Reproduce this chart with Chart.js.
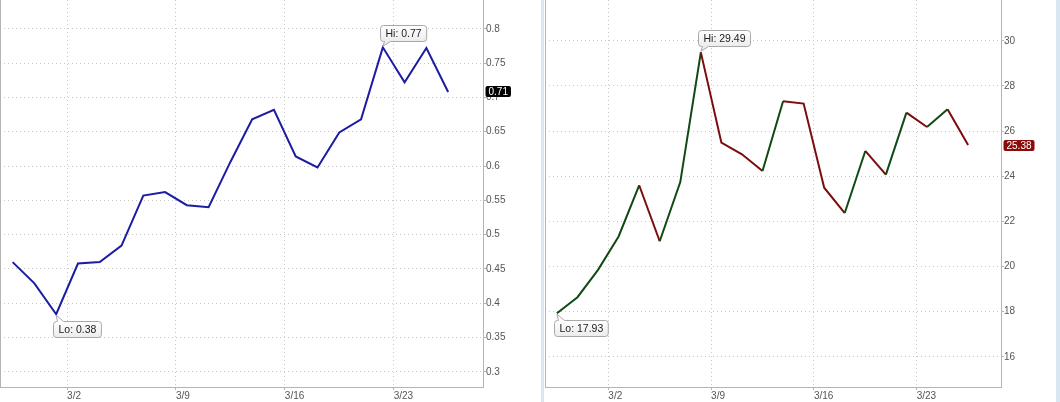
<!DOCTYPE html>
<html>
<head>
<meta charset="utf-8">
<script src="https://cdn.jsdelivr.net/npm/chart.js@4.4.0/dist/chart.umd.min.js"></script>
<style>
  body { margin: 0; background: #fff; width: 1060px; height: 402px; overflow: hidden; position: relative; }
  .panel { position: absolute; top: 0; height: 402px; }
  #p1 { left: 0; width: 541px; }
  #p2 { left: 545px; width: 511px; }
  .sep { position: absolute; top: 0; height: 402px; background: #d8e7f2; }
</style>
</head>
<body>
<div class="panel" id="p1"><canvas id="ratioChart"></canvas></div>
<div class="sep" style="left:541px;width:3px"></div>
<div class="panel" id="p2"><canvas id="priceChart"></canvas></div>
<div class="sep" style="left:1056px;width:4px"></div>
<script>
// trading days shown on both panels
const dates = ['2/25','2/26','2/27','3/2','3/3','3/4','3/5','3/6','3/9','3/10','3/11','3/12','3/13','3/16','3/17','3/18','3/19','3/20','3/23','3/24','3/25']
const ratioValues = [0.460,0.429,0.384,0.458,0.460,0.484,0.557,0.562,0.543,0.540,0.606,0.668,0.682,0.614,0.598,0.649,0.668,0.773,0.722,0.772,0.708]
const priceValues = [17.93,18.64,19.85,21.33,23.60,21.12,23.74,29.49,25.49,24.97,24.23,27.32,27.22,23.49,22.37,25.12,24.07,26.82,26.18,26.97,25.38]
const xTickLabels = ['3/2','3/9','3/16','3/23']
const ratioTicks = [0.3,0.35,0.4,0.45,0.5,0.55,0.6,0.65,0.7,0.75,0.8]
const priceTicks = [16,18,20,22,24,26,28,30]

const FONT = 'Liberation Sans, Arial, sans-serif'
const GREEN = '#0f4a12'
const RED = '#7c0c0c'

const callout = (ctx, px, py, text, above) => {
  ctx.save()
  ctx.font = '10.5px ' + FONT
  const w = ctx.measureText(text).width + 10
  const h = 16
  const r = 3
  const bx = Math.round(px - 3) + 0.5
  const by = above ? Math.round(py - 6 - h) + 0.5 : Math.round(py + 7) + 0.5
  ctx.beginPath()
  ctx.moveTo(bx + r, by)
  if (!above) {
    ctx.lineTo(bx + 4, by)
    ctx.lineTo(px, py + 1)
    ctx.lineTo(bx + 10, by)
  }
  ctx.lineTo(bx + w - r, by)
  ctx.arcTo(bx + w, by, bx + w, by + r, r)
  ctx.lineTo(bx + w, by + h - r)
  ctx.arcTo(bx + w, by + h, bx + w - r, by + h, r)
  if (above) {
    ctx.lineTo(bx + 10, by + h)
    ctx.lineTo(px, py - 1)
    ctx.lineTo(bx + 4, by + h)
  }
  ctx.lineTo(bx + r, by + h)
  ctx.arcTo(bx, by + h, bx, by + h - r, r)
  ctx.lineTo(bx, by + r)
  ctx.arcTo(bx, by, bx + r, by, r)
  ctx.closePath()
  const g = ctx.createLinearGradient(0, by, 0, by + h)
  g.addColorStop(0, '#ffffff')
  g.addColorStop(1, '#ececec')
  ctx.fillStyle = g
  ctx.fill()
  ctx.strokeStyle = '#a8a8a8'
  ctx.lineWidth = 1
  ctx.stroke()
  ctx.fillStyle = '#222'
  ctx.textBaseline = 'middle'
  ctx.textAlign = 'left'
  ctx.fillText(text, bx + 5, by + h / 2 + 0.5)
  ctx.restore()
}

const tag = (ctx, x, y, text, color) => {
  ctx.save()
  ctx.font = '10px ' + FONT
  const w = ctx.measureText(text).width + 6
  const h = 11
  const top = Math.round(y - h / 2)
  ctx.beginPath()
  ctx.roundRect(x, top, w, h, 2)
  ctx.fillStyle = color
  ctx.fill()
  ctx.fillStyle = '#fff'
  ctx.textBaseline = 'middle'
  ctx.fillText(text, x + 3, top + h / 2 + 0.5)
  ctx.restore()
}

const markers = {
  id: 'markers',
  afterDraw(chart, args, opts) {
    const ctx = chart.ctx
    const area = chart.chartArea
    // left frame line
    ctx.save()
    ctx.strokeStyle = '#b4b4b4'
    ctx.lineWidth = 1
    ctx.beginPath()
    ctx.moveTo(Math.round(area.left) + 0.5, 0)
    ctx.lineTo(Math.round(area.left) + 0.5, area.bottom)
    ctx.stroke()
    ctx.restore()

    const vals = chart.data.datasets[0].data.map(p => p.y)
    const pts = chart.getDatasetMeta(0).data
    const hi = vals.indexOf(Math.max(...vals))
    const lo = vals.indexOf(Math.min(...vals))
    callout(ctx, pts[hi].x, pts[hi].y, 'Hi: ' + vals[hi].toFixed(2), true)
    callout(ctx, pts[lo].x, pts[lo].y, 'Lo: ' + vals[lo].toFixed(2), false)
    const last = vals.length - 1
    tag(ctx, Math.round(area.right) + 2.5, pts[last].y, vals[last].toFixed(2), opts.tagColor)
  }
}

const mountChart = (canvas, values, yTicks, yMin, yMax, yWidth, lineOpts, tagColor) => {
  const points = values.map((v, i) => ({ x: i, y: v }))
  const xTickPos = xTickLabels.map(l => dates.indexOf(l) - 0.5)
  const config = {
    type: 'line',
    data: {
      datasets: [Object.assign({
        data: points,
        borderWidth: 2,
        pointRadius: 0,
        tension: 0,
        fill: false
      }, lineOpts)]
    },
    options: {
      responsive: true,
      maintainAspectRatio: false,
      animation: false,
      layout: { padding: 0 },
      plugins: {
        legend: { display: false },
        tooltip: { enabled: false },
        markers: { tagColor: tagColor }
      },
      scales: {
        x: {
          type: 'linear',
          min: -0.58,
          max: 21.6,
          afterBuildTicks: s => { s.ticks = xTickPos.map(v => ({ value: v })) },
          afterFit: s => { s.height = 15; s.paddingLeft = 0; s.paddingRight = 0 },
          grid: { color: '#c8c8c8', tickLength: 3, tickColor: '#b4b4b4' },
          border: { color: '#b4b4b4', dash: [1, 3] },
          ticks: {
            align: 'start',
            autoSkip: false,
            maxRotation: 0,
            padding: 0,
            color: '#555',
            font: { family: FONT, size: 10 },
            callback: v => xTickLabels[xTickPos.indexOf(v)]
          }
        },
        y: {
          position: 'right',
          min: yMin,
          max: yMax,
          afterBuildTicks: s => { s.ticks = yTicks.map(v => ({ value: v })) },
          afterFit: s => { s.width = yWidth; s.paddingTop = 0; s.paddingBottom = 0 },
          grid: { color: '#c8c8c8', tickLength: 3, tickColor: '#b4b4b4' },
          border: { color: '#b4b4b4', dash: [1, 3] },
          ticks: {
            padding: 0,
            color: '#555',
            font: { family: FONT, size: 10 },
            callback: v => String(+v.toFixed(2))
          }
        }
      }
    },
    plugins: [markers]
  }
  return new Chart(canvas.getContext('2d'), config)
}

mountChart(document.getElementById('ratioChart'), ratioValues, ratioTicks, 0.278, 0.842, 58,
  { borderColor: '#1c1ca2' }, '#000')

mountChart(document.getElementById('priceChart'), priceValues, priceTicks, 14.66, 31.81, 55,
  { borderColor: GREEN, segment: { borderColor: c => c.p1.parsed.y >= c.p0.parsed.y ? GREEN : RED } }, '#8a0b0b')
</script>
</body>
</html>
